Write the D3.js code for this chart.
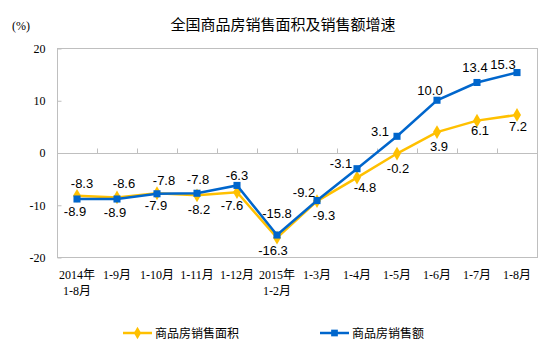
<!DOCTYPE html>
<html>
<head>
<meta charset="utf-8">
<script src="https://cdn.jsdelivr.net/npm/d3@7"></script>
<style>
  body { margin: 0; background: #fff; }
  svg text { fill: #000; }
  .tick text { font-family: "Liberation Serif", "Times New Roman", serif; font-size: 12px; }
  .xlab { font-family: "Liberation Serif", "Noto Sans CJK SC", serif; font-size: 12px; }
  .dlab { font-family: "Liberation Sans", Arial, sans-serif; font-size: 13px; }
  .cjk { font-family: "Noto Sans CJK SC", sans-serif; }
</style>
</head>
<body>
<svg id="chart" width="554" height="353"></svg>
<script>
// categories (two-line labels)
var categories = ['2014年|1-8月', '1-9月', '1-10月', '1-11月', '1-12月', '2015年|1-2月',
  '1-3月', '1-4月', '1-5月', '1-6月', '1-7月', '1-8月'];
// 商品房销售面积 growth (%)
var areaValues = [-8.3, -8.6, -7.8, -8.2, -7.6, -16.3, -9.3, -4.8, -0.2, 3.9, 6.1, 7.2];
// 商品房销售额 growth (%)
var amountValues = [-8.9, -8.9, -7.9, -7.8, -6.3, -15.8, -9.2, -3.1, 3.1, 10.0, 13.4, 15.3];
var yTicks = [-20, -10, 0, 10, 20];
var seriesNames = ['商品房销售面积', '商品房销售额'];

// label placement (dx, dy of label centre from point)
var areaLabelPos = [[5,-12],[7,-14],[7,-13],[2,14],[-5,13],[-4,13],[7,14],[8,10],[1,15],[2,14],[3,10],[1,12]];
var amountLabelPos = [[-2,12],[-2,13],[-1,12],[1,-14],[0,-10],[0,-22],[-13,-8],[-16,-5],[-17,-5],[-7,-10],[-2,-15],[-14,-8]];

var frame = { left: 57, top: 48, right: 537, bottom: 257 };
var yellow = '#FFC000', blue = '#0066CC', grid = '#BFBFBF';

// plain hyphen for negatives
var locale = d3.formatLocale({ decimal: '.', thousands: ',', grouping: [3], currency: ['', ''], minus: '-' });
var fmt1 = locale.format('.1f'), fmt0 = locale.format('d');

var svg = d3.select('#chart');

var x = d3.scaleBand().domain(categories).range([frame.left, frame.right]).padding(0);
var cx = c => x(c) + x.bandwidth() / 2;
var y = d3.scaleLinear().domain([-20, 20]).range([frame.bottom, frame.top]);

// title + unit
svg.append('text').attr('class', 'cjk').attr('x', 283).attr('y', 30)
  .attr('text-anchor', 'middle').style('font-size', '15px')
  .text('全国商品房销售面积及销售额增速');
svg.append('text').attr('x', 12).attr('y', 30)
  .style('font-family', '"Liberation Serif", serif').style('font-size', '12px').text('(%)');

// plot border
svg.append('rect').attr('x', frame.left + 0.5).attr('y', frame.top + 0.5)
  .attr('width', frame.right - frame.left).attr('height', frame.bottom - frame.top)
  .attr('fill', 'none').attr('stroke', grid);

// y axis
var yAxis = svg.append('g').attr('transform', 'translate(' + (frame.left + 0.5) + ',0.5)')
  .call(d3.axisLeft(y).tickValues(yTicks).tickSize(-4).tickPadding(12).tickFormat(fmt0));
yAxis.select('.domain').remove();
yAxis.selectAll('.tick line').attr('stroke', grid);

// zero line with upward ticks at category boundaries
var y0 = Math.round(y(0)) + 0.5;
svg.append('line').attr('x1', frame.left).attr('x2', frame.right)
  .attr('y1', y0).attr('y2', y0).attr('stroke', grid);
svg.append('g').selectAll('line').data(categories.slice(1)).join('line')
  .attr('x1', c => Math.round(x(c)) + 0.5).attr('x2', c => Math.round(x(c)) + 0.5)
  .attr('y1', y0).attr('y2', y0 - 5).attr('stroke', grid);

// category labels
categories.forEach(c => {
  var parts = c.split('|');
  parts.forEach((p, i) => {
    svg.append('text').attr('class', 'xlab').attr('x', cx(c)).attr('y', 279 + i * 16)
      .attr('text-anchor', 'middle').text(p);
  });
});

var line = d3.line().x((d, i) => cx(categories[i])).y(d => y(d));

function drawSeries(values, color, symbol, size, labelPos) {
  svg.append('path').datum(values).attr('d', line)
    .attr('fill', 'none').attr('stroke', color).attr('stroke-width', 2.5);
  svg.append('g').selectAll('path').data(values).join('path')
    .attr('transform', (d, i) => 'translate(' + cx(categories[i]) + ',' + y(d) + ')')
    .attr('d', d3.symbol().type(symbol).size(size)).attr('fill', color);
  svg.append('g').selectAll('text').data(values).join('text')
    .attr('class', 'dlab')
    .attr('x', (d, i) => cx(categories[i]) + labelPos[i][0])
    .attr('y', (d, i) => y(d) + labelPos[i][1] + 4.5)
    .attr('text-anchor', 'middle')
    .text(d => fmt1(d));
}

drawSeries(areaValues, yellow, d3.symbolDiamond, 55, areaLabelPos);
drawSeries(amountValues, blue, d3.symbolSquare, 50, amountLabelPos);

// legend
var legend = [
  { name: seriesNames[0], color: yellow, symbol: d3.symbolDiamond, x: 123 },
  { name: seriesNames[1], color: blue, symbol: d3.symbolSquare, x: 320 }
];
legend.forEach(l => {
  var g = svg.append('g').attr('transform', 'translate(' + l.x + ',333)');
  g.append('line').attr('x1', 0).attr('x2', 29).attr('stroke', l.color).attr('stroke-width', 2.5);
  g.append('path').attr('transform', 'translate(14.5,0)')
    .attr('d', d3.symbol().type(l.symbol).size(45)).attr('fill', l.color);
  g.append('text').attr('class', 'cjk').attr('x', 32).attr('y', 4.5)
    .style('font-size', '12px').text(l.name);
});
</script>
</body>
</html>
